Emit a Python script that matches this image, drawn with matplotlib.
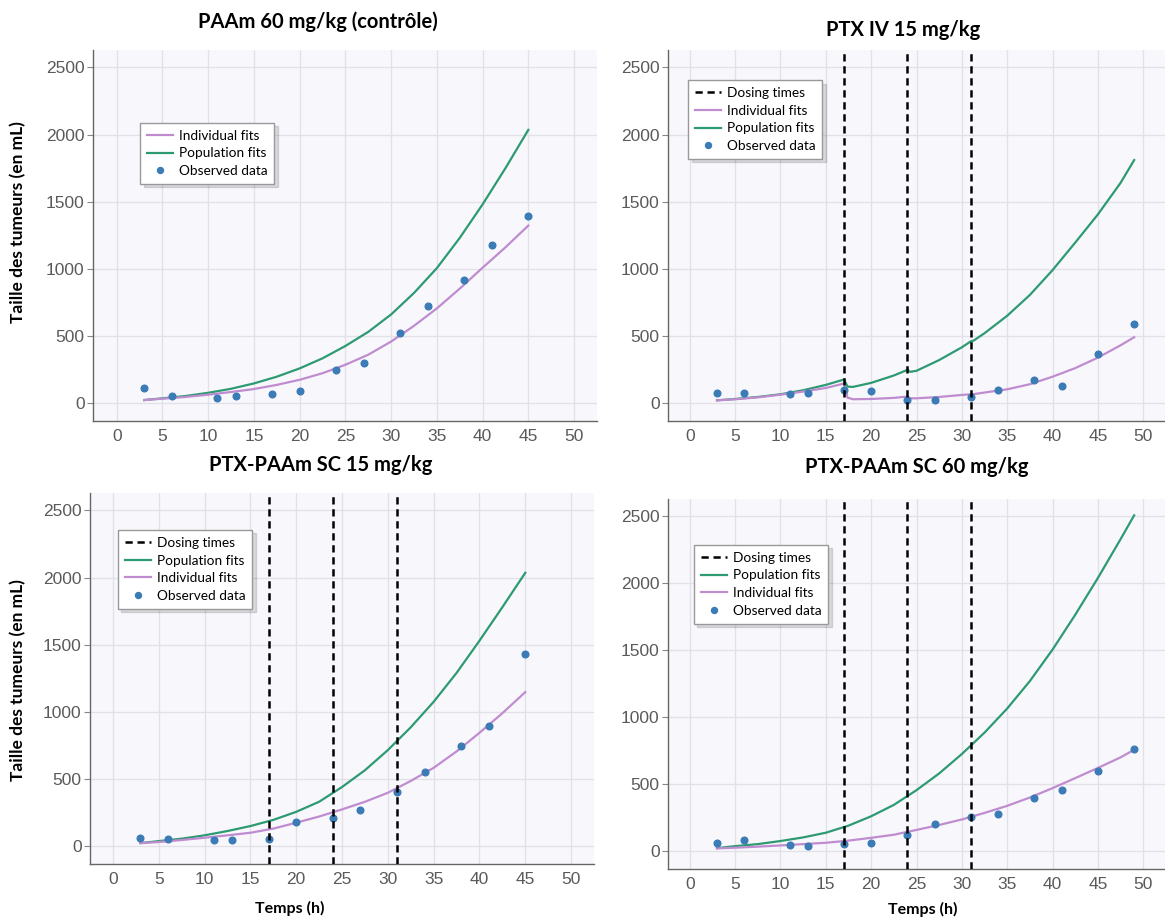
import matplotlib
matplotlib.use("Agg")
from matplotlib import pyplot as plt

# ---- data ----
dose_times = [17, 24, 31]

# PAAm 60 mg/kg (controle)
ctrl_obs_t = [3, 6, 11, 13, 17, 20, 24, 27, 31, 34, 38, 41, 45]
ctrl_obs_v = [115, 55, 40, 55, 65, 90, 245, 295, 520, 720, 920, 1180, 1390]
ctrl_fit_t = [3, 5, 7.5, 10, 12.5, 15, 17.5, 20, 22.5, 25, 27.5, 30, 32.5, 35,
              37.5, 40, 42.5, 45]
ctrl_pop_v = [22, 35, 52, 76, 106, 146, 196, 258, 333, 425, 530, 660, 820, 1005,
              1230, 1480, 1750, 2035]
ctrl_ind_v = [22, 32, 45, 62, 82, 104, 135, 173, 222, 285, 360, 458, 575, 705,
              852, 1008, 1160, 1322]

# PTX IV 15 mg/kg
iv_obs_t = [3, 6, 11, 13, 17, 20, 24, 27, 31, 34, 38, 41, 45, 49]
iv_obs_v = [75, 75, 65, 75, 100, 88, 20, 20, 45, 95, 175, 130, 365, 585]
iv_fit_t = [3, 5, 7.5, 10, 12.5, 15, 17, 17.4, 18, 20, 22.5, 24, 24.3, 25, 27.5,
            30, 31, 31.3, 32.5, 35, 37.5, 40, 42.5, 45, 47.5, 49]
iv_pop_v = [20, 30, 45, 65, 95, 135, 175, 122, 120, 150, 205, 247, 232, 240, 320,
            415, 460, 465, 520, 650, 805, 990, 1195, 1405, 1640, 1810]
iv_ind_v = [20, 28, 42, 62, 85, 112, 145, 40, 28, 30, 38, 48, 35, 35, 45,
            60, 65, 66, 78, 102, 140, 196, 260, 338, 430, 490]

# PTX-PAAm SC 15 mg/kg
sc15_obs_t = [3, 6, 11, 13, 17, 20, 24, 27, 31, 34, 38, 41, 45]
sc15_obs_v = [60, 55, 42, 42, 50, 181, 211, 266, 400, 551, 742, 894, 1433]
sc15_fit_t = [3, 5, 7.5, 10, 12.5, 15, 17.5, 20, 22.5, 25, 27.5, 30, 32.5, 35,
              37.5, 40, 42.5, 45]
sc15_pop_v = [22, 37, 55, 80, 112, 149, 195, 255, 330, 440, 565, 715, 885, 1075,
              1290, 1530, 1780, 2036]
sc15_ind_v = [22, 30, 45, 62, 80, 99, 130, 174, 220, 273, 330, 397, 485, 583,
              705, 844, 990, 1147]

# PTX-PAAm SC 60 mg/kg
sc60_obs_t = [3, 6, 11, 13, 17, 20, 24, 27, 31, 34, 38, 41, 45, 49]
sc60_obs_v = [62, 82, 42, 37, 55, 62, 119, 204, 256, 278, 397, 454, 601, 765]
sc60_fit_t = [3, 5, 7.5, 10, 12.5, 15, 17.5, 20, 22.5, 25, 27.5, 30, 32.5, 35,
              37.5, 40, 42.5, 45, 47.5, 49]
sc60_pop_v = [22, 37, 52, 75, 102, 137, 190, 260, 345, 455, 580, 725, 885, 1065,
              1270, 1505, 1765, 2040, 2330, 2508]
sc60_ind_v = [20, 25, 33, 42, 52, 62, 78, 99, 122, 158, 195, 236, 285, 338,
              400, 470, 545, 621, 700, 757]

yticks = [0, 500, 1000, 1500, 2000, 2500]
xticks = [0, 5, 10, 15, 20, 25, 30, 35, 40, 45, 50]

GREEN = "#2e9a72"
PINK = "#c08cd0"
BLUE = "#3b7bb6"
BG = "#f8f8fc"
GRID = "#e2e0e8"

fig = plt.figure(figsize=(11.65, 9.19), dpi=100)


def make_axes(rect, xlim):
    ax = fig.add_axes(rect)
    ax.set_facecolor(BG)
    ax.set_xlim(*xlim)
    ax.set_ylim(-134, 2630)
    ax.set_xticks(xticks)
    ax.set_yticks(yticks)
    ax.grid(True, color=GRID, lw=1)
    ax.set_axisbelow(True)
    for s in ("top", "right"):
        ax.spines[s].set_visible(False)
    for s in ("left", "bottom"):
        ax.spines[s].set_color("#666666")
        ax.spines[s].set_linewidth(1)
    ax.tick_params(axis="y", length=4, color="#888888", labelcolor="#5a5a5a",
                   labelsize=12.5, pad=2)
    ax.tick_params(axis="x", length=0, labelcolor="#5a5a5a", labelsize=12.5,
                   pad=6)
    for lab in ax.get_xticklabels() + ax.get_yticklabels():
        lab.set_family("Liberation Sans")
    return ax


def draw(ax, fit_t, pop_v, ind_v, obs_t, obs_v, doses, order, anchor):
    handles = {}
    handles["Population fits"], = ax.plot(fit_t, pop_v, color=GREEN, lw=1.6,
                                          zorder=3)
    handles["Individual fits"], = ax.plot(fit_t, ind_v, color=PINK, lw=1.6,
                                          zorder=3)
    handles["Observed data"], = ax.plot(obs_t, obs_v, "o", color=BLUE, ms=4.8,
                                        ls="none", zorder=4)
    if doses:
        for d in doses:
            h = ax.axvline(d, color="black", lw=1.8, dashes=(2.9, 1.9),
                           zorder=5)
        handles["Dosing times"] = h
    leg = ax.legend([handles[k] for k in order], order, loc="upper left",
                    bbox_to_anchor=anchor, bbox_transform=fig.transFigure,
                    borderaxespad=0, fancybox=False, framealpha=1,
                    edgecolor="#999999", handlelength=1.9, handletextpad=0.45,
                    labelspacing=0.42, borderpad=0.5, markerscale=0.9,
                    prop={"family": "Lato", "size": 9.8},
                    shadow={"color": "#000000", "alpha": 0.12, "ox": 2.5,
                            "oy": -2.5})
    leg.set_zorder(10)


ax1 = make_axes([0.0798, 0.5419, 0.4326, 0.4037], (-2.6, 52.5))
draw(ax1, ctrl_fit_t, ctrl_pop_v, ctrl_ind_v, ctrl_obs_t, ctrl_obs_v, None,
     ["Individual fits", "Population fits", "Observed data"], (0.1202, 0.8662))

ax2 = make_axes([0.5734, 0.5419, 0.4266, 0.4037], (-2.4, 52.4))
draw(ax2, iv_fit_t, iv_pop_v, iv_ind_v, iv_obs_t, iv_obs_v, dose_times,
     ["Dosing times", "Individual fits", "Population fits", "Observed data"],
     (0.5906, 0.9129))

ax3 = make_axes([0.0773, 0.0598, 0.4326, 0.4037], (-2.5, 52.5))
draw(ax3, sc15_fit_t, sc15_pop_v, sc15_ind_v, sc15_obs_t, sc15_obs_v, dose_times,
     ["Dosing times", "Population fits", "Individual fits", "Observed data"],
     (0.1013, 0.4233))

ax4 = make_axes([0.5734, 0.0544, 0.4266, 0.4026], (-2.4, 52.4))
draw(ax4, sc60_fit_t, sc60_pop_v, sc60_ind_v, sc60_obs_t, sc60_obs_v, dose_times,
     ["Dosing times", "Population fits", "Individual fits", "Observed data"],
     (0.5957, 0.4070))

title_kw = dict(family="Lato", weight="bold", size=14.5, ha="center",
                va="center", color="black")
fig.text(0.273, 0.976, "PAAm 60 mg/kg (contrôle)", **title_kw)
fig.text(0.775, 0.967, "PTX IV 15 mg/kg", **title_kw)
fig.text(0.2755, 0.494, "PTX-PAAm SC 15 mg/kg", **title_kw)
fig.text(0.787, 0.492, "PTX-PAAm SC 60 mg/kg", **title_kw)

lab_kw = dict(family="Lato", weight="bold", size=11.5, ha="center",
              va="center", color="black")
fig.text(0.0155, 0.758, "Taille des tumeurs (en mL)", rotation=90,
         **dict(lab_kw, size=12.5))
fig.text(0.0155, 0.26, "Taille des tumeurs (en mL)", rotation=90,
         **dict(lab_kw, size=12.5))
fig.text(0.249, 0.012, "Temps (h)", **lab_kw)
fig.text(0.792, 0.010, "Temps (h)", **lab_kw)

fig.savefig("out.png", dpi=100)
